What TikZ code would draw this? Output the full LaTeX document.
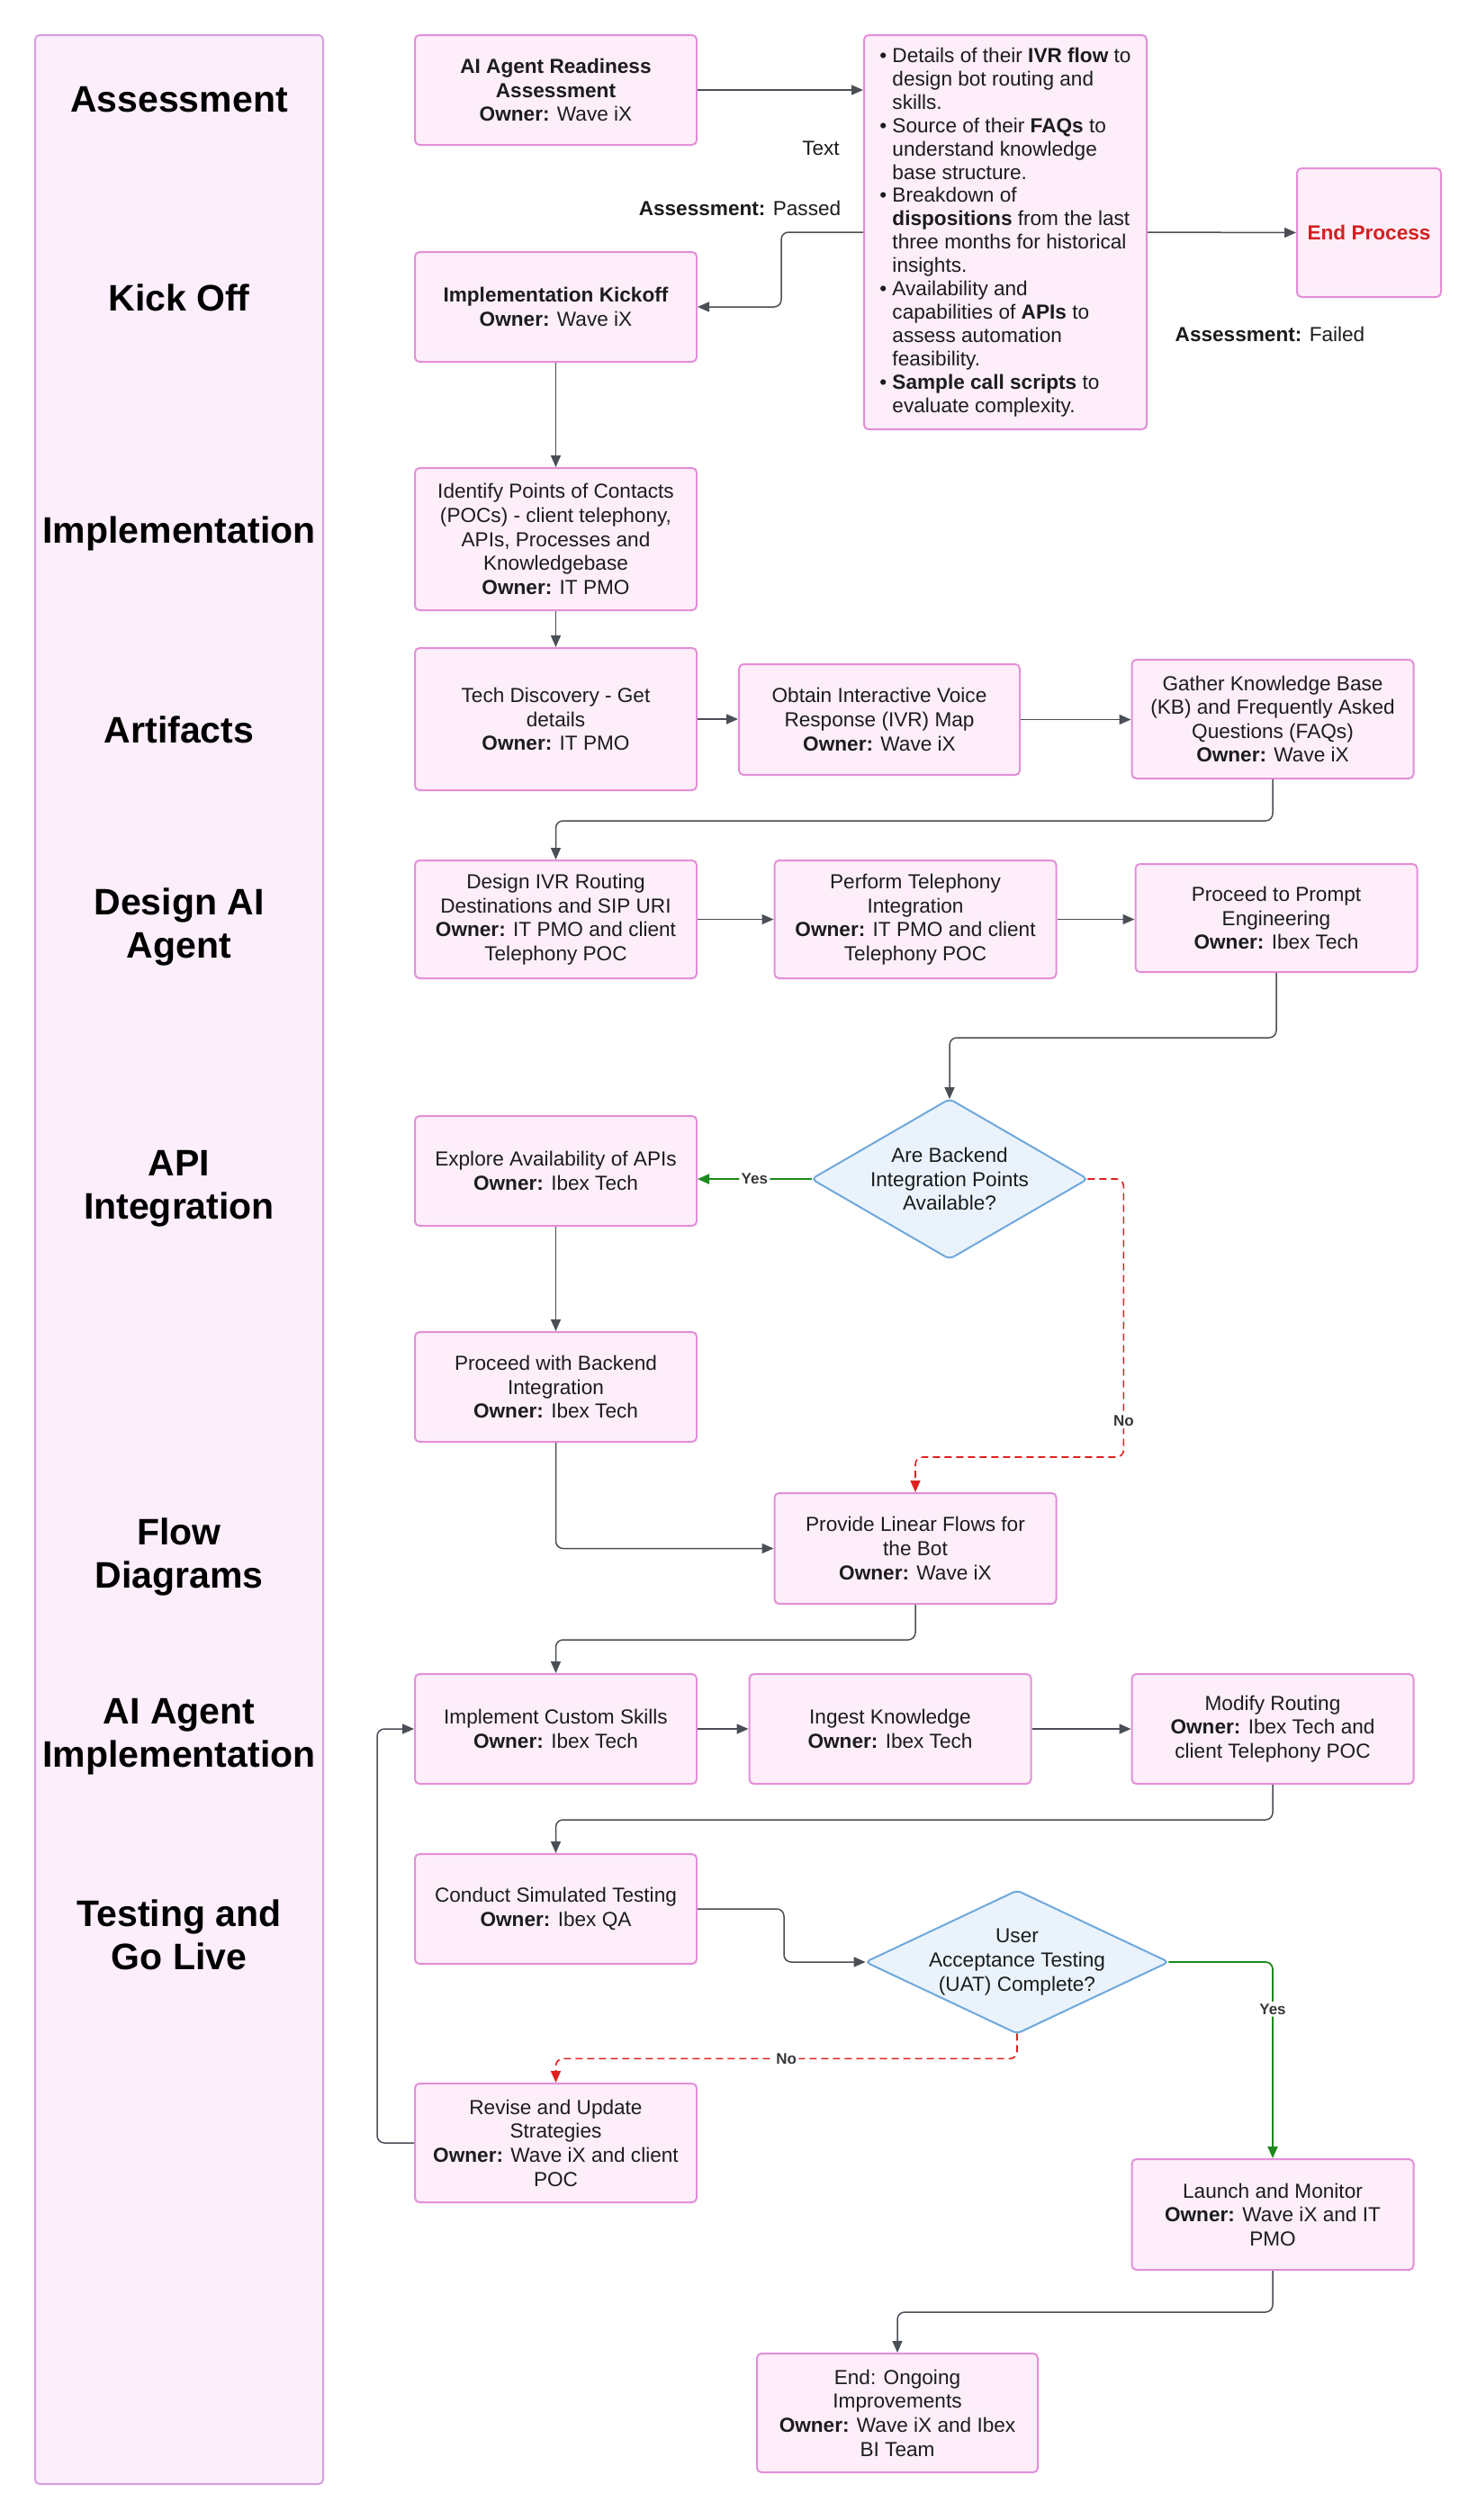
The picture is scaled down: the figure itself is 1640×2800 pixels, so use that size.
\documentclass[tikz,border=0pt]{standalone}
\usepackage{fontspec}
\setmainfont{Liberation Sans}
\usetikzlibrary{arrows.meta,backgrounds}
\definecolor{boxfill}{HTML}{FDEEF9}
\definecolor{boxline}{HTML}{E38FD8}
\definecolor{lanefill}{HTML}{FCEEFA}
\definecolor{laneline}{HTML}{D6A0E0}
\definecolor{diafill}{HTML}{EAF3FC}
\definecolor{dialine}{HTML}{6FA8DC}
\definecolor{arrowc}{HTML}{4A4E55}
\definecolor{greenc}{HTML}{1B8A1B}
\definecolor{redc}{HTML}{E02020}
\definecolor{endred}{HTML}{D42020}
\definecolor{textc}{HTML}{1C1C1C}
\definecolor{lblc}{HTML}{383838}
\newcommand{\bxfont}{\fontsize{11.3}{13.3}\selectfont}
\newcommand{\blfont}{\fontsize{11.3}{12.95}\selectfont}
\newcommand{\lnfont}{\fontsize{20.5}{24}\selectfont\bfseries}
\newcommand{\myb}{\makebox[7pt][l]{•}}
\newcommand{\myi}{\hspace*{7pt}}
\tikzset{
  box/.style={draw=boxline, fill=boxfill, line width=1pt, rounded corners=2.5pt,
    align=center, font=\bxfont, text=textc, inner sep=2pt,
    minimum width=156.5pt, minimum height=61pt},
  lane/.style={draw=laneline, fill=lanefill, line width=1pt, rounded corners=2.5pt,
    minimum width=160pt, minimum height=1360.5pt, inner sep=0pt},
  lanelbl/.style={font=\lnfont, text=black, align=center},
  dtext/.style={align=center, font=\bxfont, text=textc, inner sep=0pt,
    minimum width=153pt, minimum height=88.5pt},
  dia/.style={draw=dialine, fill=diafill, line width=1pt, rounded corners=2.5pt},
  arr/.style={draw=arrowc, line width=0.75pt, rounded corners=4pt,
    -{Triangle[length=6.5pt,width=5.5pt]}},
  yesarr/.style={arr, draw=greenc, line width=0.9pt},
  noarr/.style={arr, draw=redc, line width=0.8pt, dash pattern=on 4pt off 2.5pt},
  lbl/.style={font=\fontsize{8.5}{10}\selectfont\bfseries, text=lblc, fill=white, inner sep=1.2pt},
  free/.style={font=\bxfont, text=textc, inner sep=1pt}
}
\begin{document}
\begin{tikzpicture}[x=0.5pt,y=-0.5pt]
\useasboundingbox (0,0) rectangle (1640,2800);

% lane
\node[lane] (lane) at (199,1399.5) {};
\node[lanelbl] (l1) at (199,111) {Assessment};
\node[lanelbl] (l2) at (199,331) {Kick Off};
\node[lanelbl] (l3) at (199,593) {Implementation};
\node[lanelbl] (l4) at (199,811) {Artifacts};
\node[lanelbl] (l5) at (199,1030) {Design AI\\Agent};
\node[lanelbl] (l6) at (199,1321) {API\\Integration};
\node[lanelbl] (l7) at (199,1730) {Flow\\Diagrams};
\node[lanelbl] (l8) at (199,1930) {AI Agent\\Implementation};
\node[lanelbl] (l9) at (199,2150) {Testing and\\Go Live};

% boxes
\node[box] (b1) at (617.5,100) {\textbf{AI Agent Readiness}\\\textbf{Assessment}\\\textbf{Owner:} Wave iX};
\node[box, minimum width=157pt, minimum height=219pt, align=left, font=\blfont] (b2) at (1117,258) {%
\myb Details of their \textbf{IVR flow} to\\
\myi design bot routing and\\
\myi skills.\\
\myb Source of their \textbf{FAQs} to\\
\myi understand knowledge\\
\myi base structure.\\
\myb Breakdown of\\
\myi \textbf{dispositions} from the last\\
\myi three months for historical\\
\myi insights.\\
\myb Availability and\\
\myi capabilities of \textbf{APIs} to\\
\myi assess automation\\
\myi feasibility.\\
\myb \textbf{Sample call scripts} to\\
\myi evaluate complexity.};
\node[box, minimum width=80pt, minimum height=71.5pt] (endp) at (1521,258.5) {\textcolor{endred}{\textbf{End Process}}};
\node[box] (kick) at (617.5,341) {\textbf{Implementation Kickoff}\\\textbf{Owner:} Wave iX};
\node[box, minimum height=79pt] (b3) at (617.5,599) {Identify Points of Contacts\\(POCs) - client telephony,\\APIs, Processes and\\Knowledgebase\\\textbf{Owner:} IT PMO};
\node[box, minimum height=79pt] (b4) at (617.5,799) {Tech Discovery - Get\\details\\\textbf{Owner:} IT PMO};
\node[box, minimum width=156pt, minimum height=61.5pt] (b5) at (977,799.5) {Obtain Interactive Voice\\Response (IVR) Map\\\textbf{Owner:} Wave iX};
\node[box, minimum height=66pt] (b6) at (1414,799) {Gather Knowledge Base\\(KB) and Frequently Asked\\Questions (FAQs)\\\textbf{Owner:} Wave iX};
\node[box, minimum height=65.5pt] (b7) at (617.5,1021.5) {Design IVR Routing\\Destinations and SIP URI\\\textbf{Owner:} IT PMO and client\\Telephony POC};
\node[box, minimum height=65.5pt] (b8) at (1017,1021.5) {Perform Telephony\\Integration\\\textbf{Owner:} IT PMO and client\\Telephony POC};
\node[box, minimum height=60pt] (b9) at (1418,1020) {Proceed to Prompt\\Engineering\\\textbf{Owner:} Ibex Tech};
\node[dtext] (d1) at (1055,1310) {Are Backend\\Integration Points\\Available?};
\node[box] (b10) at (617.5,1301) {Explore Availability of APIs\\\textbf{Owner:} Ibex Tech};
\node[box] (b11) at (617.5,1541) {Proceed with Backend\\Integration\\\textbf{Owner:} Ibex Tech};
\node[box, minimum height=61.5pt] (b12) at (1017,1720.5) {Provide Linear Flows for\\the Bot\\\textbf{Owner:} Wave iX};
\node[box] (b13) at (617.5,1921) {Implement Custom Skills\\\textbf{Owner:} Ibex Tech};
\node[box] (b14) at (989,1921) {Ingest Knowledge\\\textbf{Owner:} Ibex Tech};
\node[box] (b15) at (1414,1921) {Modify Routing\\\textbf{Owner:} Ibex Tech and\\client Telephony POC};
\node[box] (b16) at (617.5,2121) {Conduct Simulated Testing\\\textbf{Owner:} Ibex QA};
\node[dtext, minimum width=168pt, minimum height=79pt] (d2) at (1130,2180) {User\\Acceptance Testing\\(UAT) Complete?};
\node[box, minimum height=66pt] (b17) at (617.5,2381) {Revise and Update\\Strategies\\\textbf{Owner:} Wave iX and client\\POC};
\node[box, minimum height=61.5pt] (b18) at (1414,2460.5) {Launch and Monitor\\\textbf{Owner:} Wave iX and IT\\PMO};
\node[box, minimum width=156pt, minimum height=66pt] (b19) at (997,2681) {End: Ongoing\\Improvements\\\textbf{Owner:} Wave iX and Ibex\\BI Team};

% free labels
\node[free] (tx) at (912,165) {Text};
\node[free] (pass) at (822,231) {\textbf{Assessment:} Passed};
\node[free] (fail) at (1411,371) {\textbf{Assessment:} Failed};

% connectors
\draw[arr] (b1.east) -- (b1.east -| b2.west);
\draw[arr] (b2.west) -- ++(-91,0) |- (kick.east);
\draw[arr] (b2.east) -- (endp.west);
\draw[arr] (kick.south) -- (b3.north);
\draw[arr] (b3.south) -- (b4.north);
\draw[arr] (b4.east) -- (b4.east -| b5.west);
\draw[arr] (b5.east) -- (b5.east -| b6.west);
\draw[arr] (b6.south) -- ++(0,46) -| (b7.north);
\draw[arr] (b7.east) -- (b8.west);
\draw[arr] (b8.east) -- (b8.east -| b9.west);
\draw[arr] (b9.south) -- ++(0,72) -| (d1.north);
\draw[yesarr] (d1.west) -- (d1.west -| b10.east) node[lbl, midway] {Yes};
\draw[noarr] (d1.east) -- ++(40,0) -- ++(0,309) node[lbl, pos=0.87] {No} -| (b12.north);
\draw[arr] (b10.south) -- (b11.north);
\draw[arr] (b11.south) |- (b12.west);
\draw[arr] (b12.south) -- ++(0,39) -| (b13.north);
\draw[arr] (b13.east) -- (b14.west);
\draw[arr] (b14.east) -- (b15.west);
\draw[arr] (b15.south) -- ++(0,39) -| (b16.north);
\draw[arr] (b16.east) -- ++(96,0) |- (d2.west);
\draw[yesarr] (d2.east) -| node[lbl, pos=0.62] {Yes} (b18.north);
\draw[noarr] (d2.south) -- ++(0,28) -| node[lbl, pos=0.25] {No} (b17.north);
\draw[arr] (b17.west) -- ++(-41,0) |- (b13.west);
\draw[arr] (b18.south) -- ++(0,46) -| (b19.north);

\begin{pgfonlayer}{background}
\fill[white] (0,0) rectangle (1640,2800);
\draw[dia] (d1.north) -- (d1.east) -- (d1.south) -- (d1.west) -- cycle;
\draw[dia] (d2.north) -- (d2.east) -- (d2.south) -- (d2.west) -- cycle;
\end{pgfonlayer}
\end{tikzpicture}
\end{document}
